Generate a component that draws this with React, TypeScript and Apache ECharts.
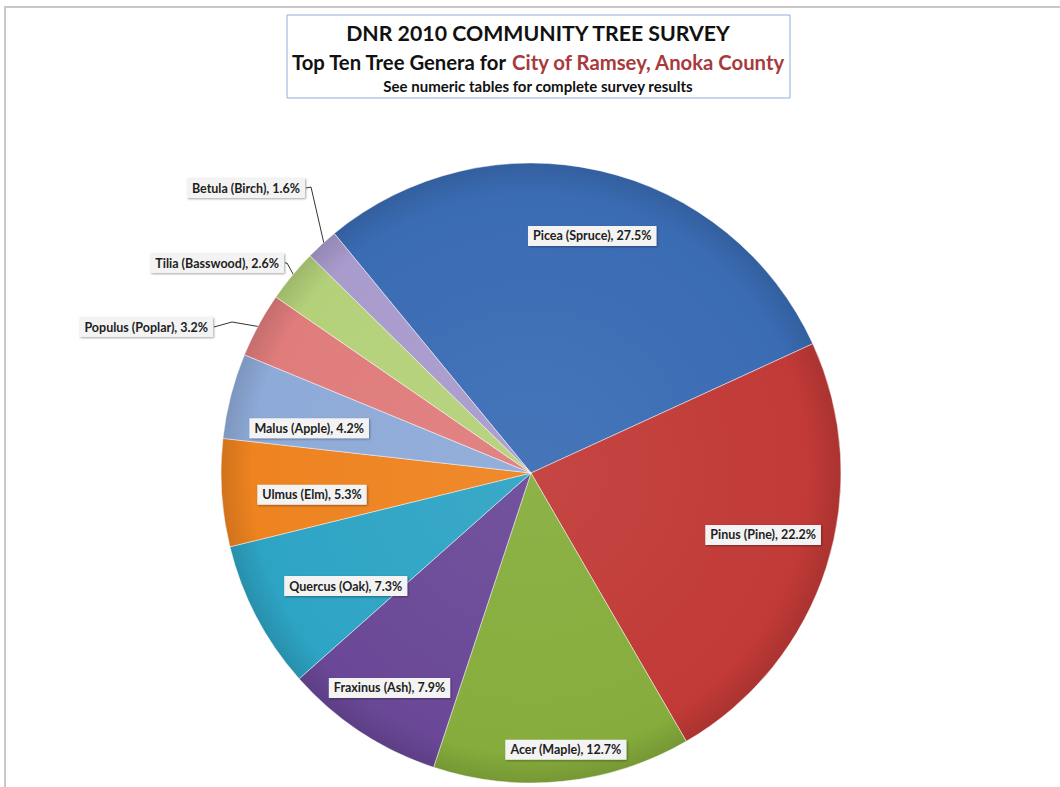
import { useEffect, useRef } from 'react';
import * as echarts from 'echarts';

const genera = [
  'Picea (Spruce)',
  'Pinus (Pine)',
  'Acer (Maple)',
  'Fraxinus (Ash)',
  'Quercus (Oak)',
  'Ulmus (Elm)',
  'Malus (Apple)',
  'Populus (Poplar)',
  'Tilia (Basswood)',
  'Betula (Birch)',
];
const percents = [27.5, 22.2, 12.7, 7.9, 7.3, 5.3, 4.2, 3.2, 2.6, 1.6];
const sliceColors = [
  '#3a6cb4',
  '#c13a37',
  '#86ad3c',
  '#6a4897',
  '#2ea4c4',
  '#ee8320',
  '#8eaad8',
  '#e07c7c',
  '#b4d17a',
  '#a99bcc',
];
const titleLines = [
  'DNR 2010 COMMUNITY TREE SURVEY',
  'Top Ten Tree Genera for ',
  'City of Ramsey, Anoka County',
  'See numeric tables for complete survey results',
];

// layout (not data)
const CX = 531;
const CY = 473;
const R = 310;
const START = 129.4;
const insideRatio = [0.79, 0.775, 0.9, 0.83, 0.7, 0.71, 0.73];
const insideNudge = [-1.5, 2.7, 1.3, 0, 3.7, 2, 3];
// outside label right-edge anchors for the three small slices
const outsideAnchor: Record<number, [number, number, number, number]> = {
  7: [213, 327, 232, 322],
  8: [284, 263, 287, 263],
  9: [305, 188, 311, 187],
};

function shade(hex: string, f: number) {
  const n = parseInt(hex.slice(1), 16);
  let r = (n >> 16) & 255, g = (n >> 8) & 255, b = n & 255;
  const m = (c: number) => Math.max(0, Math.min(255, Math.round(f > 0 ? c + (255 - c) * f : c * (1 + f))));
  r = m(r); g = m(g); b = m(b);
  return `rgb(${r},${g},${b})`;
}

export default function App() {
  const ref = useRef<HTMLDivElement>(null);
  useEffect(() => {
    if (!ref.current) return;
    const chart = echarts.init(ref.current, null, { renderer: 'svg' });
    const total = percents.reduce((a, b) => a + b, 0);
    const cum: number[] = [];
    let acc = 0;
    percents.forEach((v) => { cum.push(acc); acc += v; });
    const midAngleDeg = (i: number) => START - ((cum[i] + percents[i] / 2) / total) * 360;

    const labelBase = {
      fontFamily: 'Lato',
      fontWeight: 'bold' as const,
      fontSize: 12.5,
      color: '#1e1e1e',
      backgroundColor: '#f3f3f3',
      padding: [4, 5, 3, 5],
      shadowColor: 'rgba(0,0,0,0.35)',
      shadowBlur: 2,
      shadowOffsetX: 1,
      shadowOffsetY: 1,
      formatter: (p: any) => `${p.name}, ${percents[p.dataIndex].toFixed(1)}%`,
    };

    const data = genera.map((name, i) => {
      const outside = i >= 7;
      return {
        name,
        value: percents[i],
        itemStyle: {
          color: new echarts.graphic.RadialGradient(CX, CY, R, [
            { offset: 0, color: shade(sliceColors[i], 0.06) },
            { offset: 0.9, color: sliceColors[i] },
            { offset: 1, color: shade(sliceColors[i], -0.12) },
          ], true),
        },
        label: { position: outside ? 'outside' : 'inside' },
        labelLine: { show: outside, length: 10, length2: 10, lineStyle: { color: '#333', width: 1 } },
      };
    });

    chart.setOption({
      animation: false,
      backgroundColor: '#ffffff',
      graphic: [
        { type: 'rect', shape: { x: 5, y: 7, width: 1200, height: 900 }, style: { fill: 'none', stroke: '#c8c8c8', lineWidth: 2 }, silent: true },
        { type: 'rect', shape: { x: 287, y: 15, width: 503, height: 83 }, style: { fill: '#ffffff', stroke: '#8fb0d8', lineWidth: 1 }, silent: true },
        { type: 'text', x: 538, y: 33, style: { text: titleLines[0], font: 'bold 21.3px Lato', fill: '#111', textAlign: 'center', textVerticalAlign: 'middle' } },
        {
          type: 'text', x: 538, y: 62,
          style: {
            text: `{a|${titleLines[1]}}{b|${titleLines[2]}}`,
            textAlign: 'center', textVerticalAlign: 'middle',
            rich: {
              a: { fontFamily: 'Lato', fontWeight: 'bold', fontSize: 20.3, fill: '#111' },
              b: { fontFamily: 'Lato', fontWeight: 'bold', fontSize: 20.3, fill: '#a83a3c' },
            },
          },
        },
        { type: 'text', x: 538, y: 86, style: { text: titleLines[3], font: 'bold 15px Lato', fill: '#111', textAlign: 'center', textVerticalAlign: 'middle' } },
      ],
      series: [
        {
          type: 'pie',
          center: [CX, CY],
          radius: [0, R],
          startAngle: START,
          clockwise: true,
          avoidLabelOverlap: false,
          itemStyle: { borderColor: 'rgba(255,255,255,0.45)', borderWidth: 1 },
          label: labelBase,
          labelLayout: (p: any) => {
            const i = p.dataIndex;
            if (outsideAnchor[i]) {
              const a = (midAngleDeg(i) * Math.PI) / 180;
              const [lx, ly, ex, ey] = outsideAnchor[i];
              const sx = CX + R * 0.985 * Math.cos(a);
              const sy = CY - R * 0.985 * Math.sin(a);
              return {
                x: lx, y: ly, align: 'right', verticalAlign: 'middle',
                labelLinePoints: [[sx, sy], [ex, ey], [lx + 1, ly]],
              };
            }
            const a = ((midAngleDeg(i) + insideNudge[i]) * Math.PI) / 180;
            const r = R * insideRatio[i];
            return { x: CX + r * Math.cos(a), y: CY - r * Math.sin(a), align: 'center', verticalAlign: 'middle' };
          },
          data,
        },
      ],
    });
    return () => chart.dispose();
  }, []);
  return <div ref={ref} style={{ position: 'absolute', left: 0, top: 0, width: 1060, height: 787 }} />;
}
